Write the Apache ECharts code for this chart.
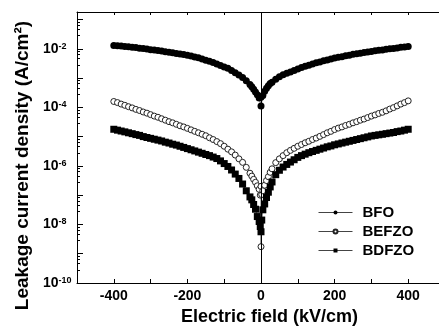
<!DOCTYPE html>
<html>
<head>
<meta charset="utf-8">
<script src="https://cdn.jsdelivr.net/npm/echarts@6/dist/echarts.min.js"></script>
<style>
  html, body { margin: 0; padding: 0; background: #fff; }
  #chart { width: 439px; height: 335px; }
</style>
</head>
<body>
<div id="chart"></div>
<script>
// electric field, kV/cm
const fieldLeft = [-400, -390, -380, -370, -360, -350, -340, -330, -320, -310,
  -300, -290, -280, -270, -260, -250, -240, -230, -220, -210,
  -200, -190, -180, -170, -160, -150, -140, -130, -120, -110,
  -100, -90, -80, -70, -60, -50, -40, -30, -25, -20, -15, -10, -5];
const fieldRight = [5, 10, 15, 20, 25, 30, 40, 50, 60, 70, 80, 90, 100,
  110, 120, 130, 140, 150, 160, 170, 180, 190, 200, 210, 220, 230, 240,
  250, 260, 270, 280, 290, 300, 310, 320, 330, 340, 350, 360, 370, 380, 390, 400];

// leakage current density, A/cm2
const bfoLeft = [1.29e-2, 1.26e-2, 1.23e-2, 1.20e-2, 1.17e-2, 1.12e-2, 1.10e-2, 1.05e-2, 1.02e-2, 9.77e-3,
  9.33e-3, 9.12e-3, 8.71e-3, 8.32e-3, 7.94e-3, 7.59e-3, 7.24e-3, 6.92e-3, 6.61e-3, 6.31e-3,
  6.03e-3, 5.62e-3, 5.25e-3, 4.90e-3, 4.47e-3, 4.07e-3, 3.72e-3, 3.39e-3, 3.02e-3, 2.69e-3,
  2.40e-3, 2.14e-3, 1.82e-3, 1.51e-3, 1.26e-3, 1.05e-3, 8.13e-4, 6.03e-4, 5.01e-4, 4.17e-4, 3.31e-4, 2.69e-4, 2.09e-4];
const bfoRight = [2.51e-4, 3.55e-4, 4.47e-4, 5.50e-4, 6.46e-4, 7.24e-4, 9.12e-4, 1.10e-3, 1.29e-3, 1.45e-3, 1.62e-3, 1.82e-3, 2.04e-3,
  2.29e-3, 2.51e-3, 2.75e-3, 3.02e-3, 3.31e-3, 3.55e-3, 3.89e-3, 4.17e-3, 4.47e-3, 4.79e-3, 5.13e-3, 5.37e-3, 5.75e-3, 6.03e-3,
  6.46e-3, 6.76e-3, 7.08e-3, 7.41e-3, 7.76e-3, 8.13e-3, 8.51e-3, 8.91e-3, 9.12e-3, 9.55e-3, 1.00e-2, 1.02e-2, 1.07e-2, 1.12e-2, 1.15e-2, 1.20e-2];
const bfoCenterField = [0, 0];
const bfoCenter = [2.2e-4, 1.12e-4];

const befzoLeft = [1.58e-4, 1.45e-4, 1.29e-4, 1.17e-4, 1.05e-4, 9.55e-5, 8.51e-5, 7.76e-5, 6.92e-5, 6.31e-5,
  5.62e-5, 5.01e-5, 4.57e-5, 4.07e-5, 3.63e-5, 3.24e-5, 2.95e-5, 2.63e-5, 2.34e-5, 2.14e-5,
  1.91e-5, 1.70e-5, 1.51e-5, 1.35e-5, 1.20e-5, 1.07e-5, 9.12e-6, 7.94e-6, 6.76e-6, 5.75e-6,
  4.68e-6, 3.72e-6, 3.02e-6, 2.34e-6, 1.74e-6, 1.32e-6, 8.91e-7, 5.62e-7, 4.47e-7, 3.47e-7, 2.75e-7, 2.09e-7, 1.58e-7];
const befzoRight = [1.41e-7, 2.19e-7, 3.16e-7, 4.27e-7, 6.03e-7, 7.94e-7, 1.29e-6, 1.74e-6, 2.24e-6, 2.82e-6, 3.39e-6, 3.98e-6, 4.68e-6,
  5.37e-6, 6.17e-6, 6.92e-6, 7.94e-6, 8.91e-6, 1.02e-5, 1.17e-5, 1.35e-5, 1.51e-5, 1.74e-5, 1.95e-5, 2.14e-5, 2.40e-5, 2.63e-5,
  2.95e-5, 3.24e-5, 3.63e-5, 3.98e-5, 4.47e-5, 5.01e-5, 5.50e-5, 6.17e-5, 6.76e-5, 7.59e-5, 8.71e-5, 9.77e-5, 1.12e-4, 1.29e-4, 1.45e-4, 1.66e-4];
const befzoCenterField = [-2, 0, 0, 2];
const befzoCenter = [1.0e-7, 2.0e-7, 1.74e-9, 1.05e-7];

const bdfzoLeft = [1.78e-5, 1.66e-5, 1.55e-5, 1.45e-5, 1.35e-5, 1.26e-5, 1.17e-5, 1.10e-5, 1.00e-5, 9.33e-6,
  8.71e-6, 8.13e-6, 7.59e-6, 7.08e-6, 6.46e-6, 6.03e-6, 5.50e-6, 5.13e-6, 4.68e-6, 4.27e-6,
  3.89e-6, 3.55e-6, 3.24e-6, 2.95e-6, 2.69e-6, 2.45e-6, 2.24e-6, 2.00e-6, 1.78e-6, 1.48e-6,
  1.20e-6, 9.55e-7, 7.24e-7, 5.25e-7, 3.72e-7, 2.40e-7, 1.41e-7, 8.71e-8, 6.92e-8, 4.79e-8, 3.31e-8, 1.86e-8, 1.26e-8];
const bdfzoRight = [3.16e-8, 5.01e-8, 8.32e-8, 1.26e-7, 1.91e-7, 2.82e-7, 5.01e-7, 7.08e-7, 9.12e-7, 1.12e-6, 1.35e-6, 1.62e-6, 1.95e-6,
  2.24e-6, 2.51e-6, 2.82e-6, 3.09e-6, 3.39e-6, 3.72e-6, 4.07e-6, 4.47e-6, 4.79e-6, 5.25e-6, 5.62e-6, 6.03e-6, 6.46e-6, 6.92e-6,
  7.41e-6, 7.94e-6, 8.51e-6, 9.12e-6, 9.77e-6, 1.05e-5, 1.10e-5, 1.15e-5, 1.20e-5, 1.26e-5, 1.32e-5, 1.38e-5, 1.48e-5, 1.55e-5, 1.66e-5, 1.78e-5];
const bdfzoCenterField = [-2, 0, 2];
const bdfzoCenter = [8.51e-9, 5.62e-9, 1.41e-8];

const xTickLabels = [-400, -200, 0, 200, 400];
const yLabelExps = [-10, -8, -6, -4, -2];

function pairs(xs, ys) { return xs.map((x, i) => [x, ys[i]]); }
function build(l, cx, c, r) {
  return pairs(fieldLeft, l).concat(pairs(cx, c), pairs(fieldRight, r));
}

const font = 'Liberation Sans, Arial, sans-serif';
const chart = echarts.init(document.getElementById('chart'));

const option = {
  animation: false,
  grid: { left: 77, top: 12, right: -6, bottom: 52, outerBoundsMode: 'none' },
  legend: {
    orient: 'vertical',
    left: 313,
    top: 200,
    itemWidth: 34,
    itemHeight: 5,
    itemGap: 4,
    lineStyle: { color: '#444', width: 1 },
    textStyle: { fontFamily: font, fontWeight: 'bold', fontSize: 15, color: '#000', padding: [0, 0, 0, 5] },
    data: ['BFO', 'BEFZO', 'BDFZO']
  },
  xAxis: [{
    type: 'value', min: -500, max: 500, interval: 100,
    name: 'Electric field (kV/cm)', nameLocation: 'middle', nameGap: 14,
    nameTextStyle: { fontFamily: font, fontWeight: 'bold', fontSize: 18, color: '#000', padding: [0, 0, 0, 17] },
    axisLine: { show: true, onZero: false, lineStyle: { color: '#000', width: 1 } },
    axisTick: { show: true, inside: true, length: 4, lineStyle: { color: '#000' } },
    axisLabel: {
      margin: 6, fontFamily: font, fontWeight: 'bold', fontSize: 14, color: '#000',
      formatter: v => xTickLabels.indexOf(v) >= 0 ? String(v) : ''
    },
    splitLine: { show: false }
  }, {
    type: 'value', position: 'top', min: -500, max: 500, interval: 100,
    axisLine: { show: true, onZero: false, lineStyle: { color: '#000', width: 1 } },
    axisTick: { show: true, inside: true, length: 3, lineStyle: { color: '#000' } },
    axisLabel: { show: false },
    splitLine: { show: false }
  }],
  yAxis: {
    type: 'log', logBase: 10, min: 1e-10, max: 0.18, splitNumber: 10, interval: 1,
    name: 'Leakage current density (A/cm²)', nameLocation: 'middle', nameGap: 42,
    nameTextStyle: { fontFamily: font, fontWeight: 'bold', fontSize: 19, color: '#000', padding: [0, 36, 0, 0] },
    axisLine: { show: true, onZero: false, lineStyle: { color: '#000', width: 1 } },
    axisTick: { show: true, inside: true, length: 6, lineStyle: { color: '#000' } },
    minorTick: { show: true, splitNumber: 5, length: 3, lineStyle: { color: '#000' } },
    axisLabel: {
      align: 'left', margin: 34,
      formatter: v => {
        const e = Math.log10(v), r = Math.round(e);
        if (Math.abs(e - r) > 0.01 || yLabelExps.indexOf(r) < 0) return '';
        return '{a|10}{b|' + r + '}';
      },
      rich: {
        a: { fontFamily: font, fontWeight: 'bold', fontSize: 14, color: '#000' },
        b: { fontFamily: font, fontWeight: 'bold', fontSize: 9, color: '#000', verticalAlign: 'top' }
      }
    },
    splitLine: { show: false }
  },
  series: [{
    name: 'BFO', type: 'line', data: build(bfoLeft, bfoCenterField, bfoCenter, bfoRight),
    symbol: 'circle', symbolSize: 7, showAllSymbol: true, silent: true,
    itemStyle: { color: '#000' },
    lineStyle: { color: '#777', width: 1 },
    markLine: {
      silent: true, symbol: 'none', label: { show: false },
      lineStyle: { color: '#000', width: 1, type: 'solid' },
      data: [{ xAxis: 0 }]
    }
  }, {
    name: 'BEFZO', type: 'line', data: build(befzoLeft, befzoCenterField, befzoCenter, befzoRight),
    symbol: 'circle', symbolSize: 6, showAllSymbol: true, silent: true,
    itemStyle: { color: '#fff', borderColor: '#222', borderWidth: 1 },
    lineStyle: { color: '#777', width: 1 }
  }, {
    name: 'BDFZO', type: 'line', data: build(bdfzoLeft, bdfzoCenterField, bdfzoCenter, bdfzoRight),
    symbol: 'rect', symbolSize: 7, showAllSymbol: true, silent: true,
    itemStyle: { color: '#000' },
    lineStyle: { color: '#777', width: 1 }
  }]
};
chart.setOption(option);
</script>
</body>
</html>
